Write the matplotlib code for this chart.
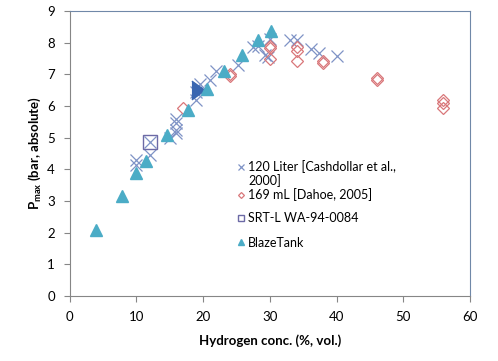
import matplotlib.pyplot as plt
from matplotlib.lines import Line2D

plt.rcParams['font.family'] = ['Lato', 'DejaVu Sans']

# 120 Liter [Cashdollar et al., 2000]
cash_x = [10, 10, 12, 12, 15, 16, 16, 16, 16, 19, 19, 19.5, 21, 22, 25.2, 27.5, 28.2,
          29.3, 29.8, 30, 33, 34, 36.2, 37.3, 40]
cash_y = [4.3, 4.15, 4.45, 4.87, 5.0, 5.6, 5.45, 5.25, 5.15, 6.2, 6.45, 6.68, 6.82, 7.1, 7.3, 7.85, 7.9,
          7.6, 7.55, 8.12, 8.1, 8.1, 7.8, 7.67, 7.58]

# 169 mL [Dahoe, 2005]
dahoe_x = [17, 24, 24, 30, 30, 30, 34, 34, 34, 38, 38, 46, 46, 56, 56, 56]
dahoe_y = [5.93, 7.0, 6.95, 7.9, 7.82, 7.47, 7.85, 7.75, 7.43, 7.42, 7.36, 6.88, 6.82, 6.18, 6.08, 5.95]

# SRT-L WA-94-0084
srt_x = [12]
srt_y = [4.87]

# BlazeTank
blaze_x = [4, 7.8, 10, 11.5, 14.6, 17.7, 20.6, 23.2, 25.8, 28.2, 30.2]
blaze_y = [2.1, 3.15, 3.88, 4.25, 5.1, 5.88, 6.55, 7.1, 7.62, 8.1, 8.37]

# unlabelled dark marker
extra_x = [19.2]
extra_y = [6.5]

fig = plt.figure(figsize=(4.98, 3.61), dpi=100)
ax = fig.add_axes([0.1396, 0.18, 0.8044, 0.7895])

ax.plot(extra_x, extra_y, ls='none', marker=[(-0.7, -1), (0.7, 0), (-0.7, 1)], ms=13.5,
        color='#3a66b0', zorder=2.5)
h1, = ax.plot(cash_x, cash_y, ls='none', marker='x', ms=8, mew=0.9, color='#7f93c6', zorder=2)
h2, = ax.plot(dahoe_x, dahoe_y, ls='none', marker='D', ms=6, mew=0.9, mfc='none', color='#d9777a', zorder=3)
h3, = ax.plot(srt_x, srt_y, ls='none', marker='s', ms=10, mew=1.0, mfc='none', color='#6c6aa6', zorder=3)
h4, = ax.plot(blaze_x, blaze_y, ls='none', marker='^', ms=9, color='#4bacc6', mec='#4bacc6', zorder=3)
blank = Line2D([], [], ls='none')

ax.set_xlim(0, 60)
ax.set_ylim(0, 9)
ax.set_xticks(range(0, 61, 10))
ax.set_yticks(range(0, 10))
ax.tick_params(labelsize=9.5, length=4, color='#868686')
ax.tick_params(axis='x', pad=7)
ax.tick_params(axis='y', pad=6.5)

for s in ['left', 'bottom']:
    ax.spines[s].set_color('#868686')
for s in ['top', 'right']:
    ax.spines[s].set_color('#7088a8')

ax.set_xlabel('Hydrogen conc. (%, vol.)', fontsize=9.5, fontweight='bold', labelpad=8)
ax.set_ylabel('P$_{\\mathregular{max}}$ (bar, absolute)', fontsize=9.5, fontweight='bold', labelpad=3)

leg_kw = dict(frameon=False, fontsize=9, markerscale=0.5, handlelength=0.6, handletextpad=0.3)
leg1 = ax.legend([h1, blank, h2], ['120 Liter [Cashdollar et al.,', '2000]', '169 mL [Dahoe, 2005]'],
                 loc='upper left', bbox_to_anchor=(0.39, 0.516), labelspacing=0.08, **leg_kw)
ax.add_artist(leg1)
ax.legend([h3, h4], ['SRT-L WA-94-0084', 'BlazeTank'],
          loc='upper left', bbox_to_anchor=(0.39, 0.333), labelspacing=1.0, **leg_kw)

fig.savefig('out.png', dpi=100)
